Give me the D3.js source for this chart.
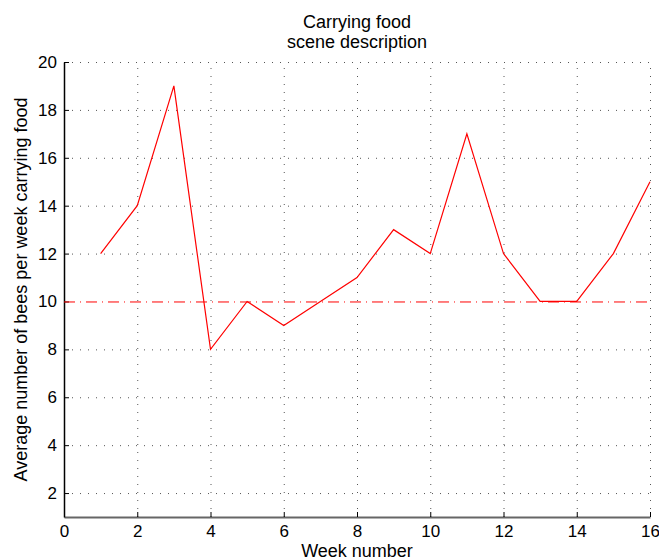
<!DOCTYPE html>
<meta charset="utf-8">
<style>
    body {
        margin: 0;
        padding: 0;
        background: #fff;
    }
    svg text {
        font-family: "Liberation Sans", Arial, sans-serif;
        fill: #000;
    }
    .grid line {
        stroke: #555;
        stroke-width: 1;
        stroke-dasharray: 1,7;
    }
</style>
<body>
<script src="https://d3js.org/d3.v7.min.js"></script>
<script>

var weeks = [1, 2, 3, 4, 5, 6, 7, 8, 9, 10, 11, 12, 13, 14, 15, 16];
var beesCarrying = [12, 14, 19, 8, 10, 9, 10, 11, 13, 12, 17, 12, 10, 10, 12, 15];
var meanLevel = 10;
var xTicks = [0, 2, 4, 6, 8, 10, 12, 14, 16];
var yTicks = [2, 4, 6, 8, 10, 12, 14, 16, 18, 20];

var width = 659,
  height = 560;
var margin = {top: 62, right: 9, bottom: 43, left: 64};

var svg = d3.select("body").append("svg")
    .attr("width", width)
    .attr("height", height);

var x = d3.scaleLinear()
    .domain([0, 16])
    .range([margin.left, width - margin.right]);

var y = d3.scaleLinear()
    .domain([1, 20])
    .range([height - margin.bottom, margin.top]);

// grid
var grid = svg.append("g").attr("class", "grid");
grid.selectAll(".gx")
  .data(xTicks.slice(1))
  .enter().append("line")
    .attr("x1", d => x(d) + 0.5).attr("x2", d => x(d) + 0.5)
    .attr("y1", y(1)).attr("y2", y(20));
grid.selectAll(".gy")
  .data(yTicks.filter(d => d != meanLevel))
  .enter().append("line")
    .attr("x1", x(0)).attr("x2", x(16))
    .attr("y1", d => y(d) + 0.5).attr("y2", d => y(d) + 0.5);

// axes
var xAxis = d3.axisBottom(x).tickValues(xTicks).tickSizeInner(-5).tickSizeOuter(0).tickPadding(8);
var yAxis = d3.axisLeft(y).tickValues(yTicks).tickSizeInner(-5).tickSizeOuter(0).tickPadding(7);

var gx = svg.append("g")
    .attr("transform", "translate(0," + y(1) + ")")
    .call(xAxis);
gx.select(".domain").attr("stroke", "#666").attr("stroke-width", 2);
gx.selectAll(".tick line").attr("stroke", "#000");
gx.selectAll("text").attr("font-size", 17).attr("font-family", null);

var gy = svg.append("g")
    .attr("transform", "translate(" + x(0) + ",0)")
    .call(yAxis);
gy.select(".domain").attr("stroke", "#000").attr("stroke-width", 1.5);
gy.selectAll("text").attr("font-size", 17).attr("font-family", null);

// mean line (dash-dot)
svg.append("line")
    .attr("x1", x(0)).attr("x2", x(16))
    .attr("y1", y(meanLevel) + 0.5).attr("y2", y(meanLevel) + 0.5)
    .attr("stroke", "red")
    .attr("stroke-width", 1)
    .attr("stroke-dasharray", "11,5,1,5");

// series
var line = d3.line()
  .x(function(d, i) { return x(weeks[i]); })
  .y(function(d) { return y(d); });

svg.append("path")
    .attr("d", line(beesCarrying))
    .attr("fill", "none")
    .attr("stroke", "red")
    .attr("stroke-width", 1.2);

// titles
var cx = (x(0) + x(16)) / 2;
svg.append("text")
    .attr("x", cx).attr("y", 28)
    .attr("text-anchor", "middle")
    .attr("font-size", 18)
    .text("Carrying food");
svg.append("text")
    .attr("x", cx).attr("y", 48)
    .attr("text-anchor", "middle")
    .attr("font-size", 18)
    .text("scene description");

svg.append("text")
    .attr("x", cx).attr("y", 557)
    .attr("text-anchor", "middle")
    .attr("font-size", 18)
    .text("Week number");

svg.append("text")
    .attr("transform", "translate(27," + (y(1) + y(20)) / 2 + ") rotate(-90)")
    .attr("text-anchor", "middle")
    .attr("font-size", 18)
    .text("Average number of bees per week carrying food");

</script>
